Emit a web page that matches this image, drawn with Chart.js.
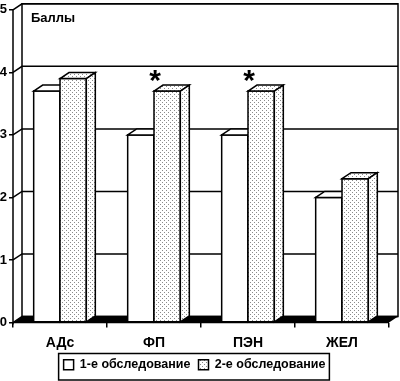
<!DOCTYPE html>
<html><head><meta charset="utf-8">
<script src="https://cdn.jsdelivr.net/npm/chart.js@4/dist/chart.umd.min.js"></script>
<style>html,body{margin:0;padding:0;background:#fff}#wrap{width:400px;height:381px;position:relative}</style>
</head><body><div id="wrap"><canvas id="c" width="400" height="381"></canvas></div>
<script>
const categories = ['АДс', 'ФП', 'ПЭН', 'ЖЕЛ'];
const series1 = [3.7, 3.0, 3.0, 2.0];
const series2 = [3.9, 3.7, 3.7, 2.3];
const seriesNames = ['1-е обследование', '2-е обследование'];
const significant = [false, true, true, false];
const yTicks = [0, 1, 2, 3, 4, 5];
const yTitle = 'Баллы';

const FONT = '"Liberation Sans", Arial, sans-serif';
const DX = 9, DY = 6;

function dotPattern() {
  const c = document.createElement('canvas'); c.width = 4; c.height = 4;
  const g = c.getContext('2d');
  g.fillStyle = '#fff'; g.fillRect(0, 0, 4, 4);
  g.fillStyle = '#8a8a8a'; g.fillRect(0, 0, 1, 1); g.fillRect(2, 2, 1, 1);
  return g.createPattern(c, 'repeat');
}
const dots = dotPattern();

const threeD = {
  id: 'threeD',
  beforeDatasetsDraw(chart) {
    const { ctx, chartArea: a, scales: { y } } = chart;
    ctx.save();
    ctx.strokeStyle = '#000'; ctx.lineWidth = 1.5;
    ctx.fillStyle = '#000';
    ctx.beginPath();
    ctx.moveTo(a.left, a.bottom); ctx.lineTo(a.right, a.bottom);
    ctx.lineTo(a.right + DX, a.bottom - DY); ctx.lineTo(a.left + DX, a.bottom - DY);
    ctx.closePath(); ctx.fill();
    ctx.strokeRect(a.left + DX, a.top - DY, a.right - a.left, a.bottom - a.top);
    yTicks.forEach(v => {
      const py = y.getPixelForValue(v);
      ctx.beginPath(); ctx.moveTo(a.left, py); ctx.lineTo(a.left + DX, py - DY);
      ctx.lineTo(a.right + DX, py - DY); ctx.stroke();
    });
    ctx.beginPath(); ctx.moveTo(a.left, a.top); ctx.lineTo(a.left, a.bottom + 2); ctx.moveTo(a.left, a.bottom); ctx.lineTo(a.right, a.bottom); ctx.stroke();
    ctx.fillStyle = '#000'; ctx.font = 'bold 13px ' + FONT; ctx.textBaseline = 'middle'; ctx.textAlign = 'left';
    ctx.fillText(yTitle, a.left + 18, a.top + 9);
    ctx.restore();
  },
  afterDatasetsDraw(chart) {
    const ctx = chart.ctx;
    const n = chart.data.labels.length;
    for (let i = 0; i < n; i++) {
      chart.data.datasets.forEach((ds, di) => {
        const bar = chart.getDatasetMeta(di).data[i];
        const { x, y, base, width } = bar.getProps(['x', 'y', 'base', 'width'], true);
        const l = x - width / 2, r = x + width / 2;
        ctx.save();
        ctx.fillStyle = ds.backgroundColor; ctx.strokeStyle = '#000'; ctx.lineWidth = 1.5;
        ctx.beginPath(); ctx.rect(l, y, r - l, base - y); ctx.fill(); ctx.stroke();
        ctx.beginPath(); ctx.moveTo(l, y); ctx.lineTo(l + DX, y - DY); ctx.lineTo(r + DX, y - DY); ctx.lineTo(r, y); ctx.closePath(); ctx.fill(); ctx.stroke();
        ctx.beginPath(); ctx.moveTo(r, y); ctx.lineTo(r + DX, y - DY); ctx.lineTo(r + DX, base - DY); ctx.lineTo(r, base); ctx.closePath(); ctx.fill(); ctx.stroke();
        ctx.restore();
      });
    }
    const meta2 = chart.getDatasetMeta(1);
    ctx.save();
    ctx.fillStyle = '#000'; ctx.font = 'bold 30px ' + FONT; ctx.textAlign = 'center'; ctx.textBaseline = 'alphabetic';
    significant.forEach((s, i) => {
      if (!s) return;
      const b = meta2.data[i];
      ctx.fillText('*', b.x - b.width / 2 + 1, b.y - 1);
    });
    ctx.restore();
  },
  afterDraw(chart) {
    const lg = chart.legend;
    if (!lg || !lg.legendHitBoxes || !lg.legendHitBoxes.length) return;
    const hb = lg.legendHitBoxes;
    let x0 = Infinity, x1 = -Infinity, y0 = Infinity, y1 = -Infinity;
    hb.forEach(h => { x0 = Math.min(x0, h.left); x1 = Math.max(x1, h.left + h.width); y0 = Math.min(y0, h.top); y1 = Math.max(y1, h.top + h.height); });
    const ctx = chart.ctx;
    ctx.save(); ctx.strokeStyle = '#000'; ctx.lineWidth = 1.5;
    ctx.strokeRect(x0 - 5, y0 - 5, x1 - x0 + 9, y1 - y0 + 14);
    ctx.restore();
  }
};

new Chart(document.getElementById('c'), {
  type: 'bar',
  data: {
    labels: categories,
    datasets: [
      { label: seriesNames[0], data: series1, backgroundColor: '#fff', borderColor: '#000', borderWidth: 1.5 },
      { label: seriesNames[1], data: series2, backgroundColor: dots, borderColor: '#000', borderWidth: 1.5 }
    ]
  },
  options: {
    responsive: false,
    animation: false,
    events: [],
    layout: { padding: { top: 8, right: 11, left: 0, bottom: 0 } },
    datasets: { bar: { categoryPercentage: 0.56, barPercentage: 1 } },
    plugins: {
      legend: {
        position: 'bottom',
        labels: { boxWidth: 10, boxHeight: 10, color: '#000', font: { family: FONT, size: 12.5, weight: 'bold' }, padding: 8 }
      },
      tooltip: { enabled: false }
    },
    scales: {
      x: {
        afterFit(s) { s.height = 28; },
        grid: { display: true, offset: true, drawOnChartArea: false, tickLength: 5, color: '#000', lineWidth: 1.5 },
        border: { display: false },
        ticks: { color: '#000', font: { family: FONT, size: 14, weight: 'bold' }, padding: 7 }
      },
      y: {
        min: 0, max: 5,
        afterFit(s) { s.width = 13; },
        afterBuildTicks(s) { s.ticks = yTicks.map(v => ({ value: v })); },
        grid: { display: true, drawOnChartArea: false, tickLength: 4, color: '#000', lineWidth: 1.5 },
        border: { display: false },
        ticks: { color: '#000', font: { family: FONT, size: 13, weight: 'bold' }, padding: 2 }
      }
    }
  },
  plugins: [threeD]
});
</script>
</body></html>
